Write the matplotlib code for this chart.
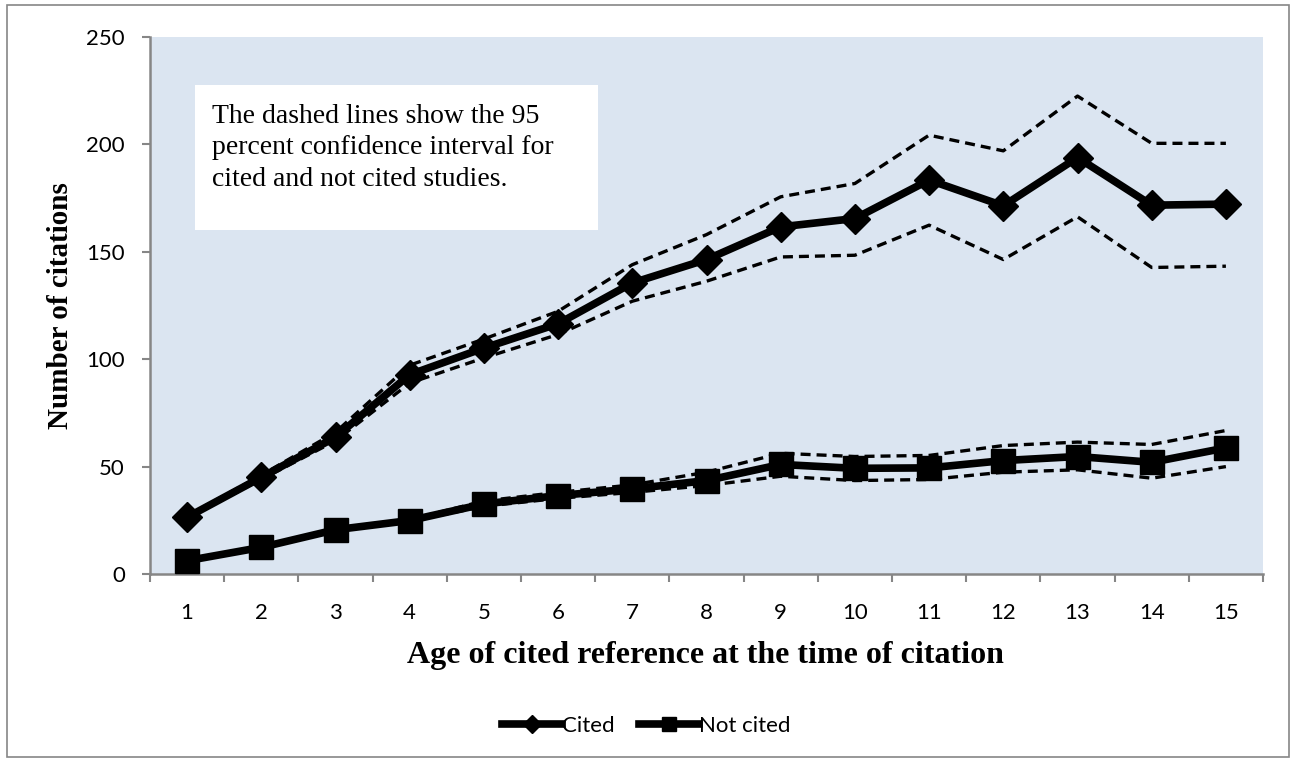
import numpy as np
import matplotlib.pyplot as plt
from matplotlib.patches import Rectangle

# Data
ages = list(range(1, 16))
cited = [26.4, 45, 63.7, 92.8, 105.2, 116.5, 135.5, 146.4, 161.6, 165.5, 183.4, 171.4, 193.9, 171.7, 172.2]
cited_upper = [27, 46, 66, 97.2, 109.4, 122.3, 144, 158, 175.6, 181.8, 204.3, 197, 222.5, 200.5, 200.5]
cited_lower = [26, 44, 62, 88.9, 100.6, 111.5, 127, 136.3, 147.6, 148.4, 162.4, 146.4, 166.3, 142.7, 143.3]
not_cited = [6.2, 12.4, 20.6, 24.9, 32.6, 36.5, 39.6, 43.5, 51, 49.2, 49.4, 52.8, 54.7, 52, 58.7]
not_cited_upper = [6.5, 12.8, 21, 25.3, 34, 38, 41.5, 47.4, 56.2, 54.7, 55.2, 59.8, 61.4, 60.3, 66.8]
not_cited_lower = [6, 12, 20.2, 24.5, 31.5, 35.2, 38, 41.2, 45.5, 43.5, 44, 47.4, 48.5, 44.6, 50]

W, H = 1293, 760
fig = plt.figure(figsize=(W / 100, H / 100), dpi=100)
ax = fig.add_axes([150 / W, 1 - 574 / H, 1113 / W, 537 / H])
ax.set_facecolor('#DBE5F1')

# outer chart border
fig.patches.append(Rectangle((7 / W, 3 / H), 1282 / W, 752 / H, transform=fig.transFigure,
                             fill=False, edgecolor='#868686', linewidth=1.2))

# confidence interval lines
for band in [cited_upper, cited_lower, not_cited_upper, not_cited_lower]:
    ax.plot(ages, band, color='black', linestyle=(0, (3, 1.8)), linewidth=2.4, zorder=2)

ax.plot(ages, cited, color='black', linewidth=5.5, marker='D', markersize=15, label='Cited', zorder=3)
ax.plot(ages, not_cited, color='black', linewidth=5.5, marker='s', markersize=17, label='Not cited', zorder=3)

ax.set_xlim(0.5, 15.5)
ax.set_ylim(0, 250)
ax.set_yticks([0, 50, 100, 150, 200, 250])
ax.set_xticks(ages)
ax.set_xticks(np.arange(0.5, 16, 1), minor=True)
ax.tick_params(axis='x', which='major', length=0, pad=21, labelsize=16)
ax.tick_params(axis='x', which='minor', length=6, width=1.5, color='#868686', direction='out')
ax.tick_params(axis='y', length=6, width=1.5, color='#868686', direction='out', labelsize=16, pad=12)
for lab in ax.get_xticklabels() + ax.get_yticklabels():
    lab.set_family('Lato')

for side in ['top', 'right']:
    ax.spines[side].set_visible(False)
for side in ['left', 'bottom']:
    ax.spines[side].set_color('#868686')
    ax.spines[side].set_linewidth(1.8)

ax.set_xlabel('Age of cited reference at the time of citation', family='Liberation Serif',
              fontweight='bold', fontsize=23)
ax.xaxis.set_label_coords(0.4987, -0.125)
ax.set_ylabel('Number of citations', family='Liberation Serif', fontweight='bold', fontsize=21)
ax.yaxis.set_label_coords(-0.068, 0.5)

# annotation box
ax.add_patch(Rectangle((1.105, 160), 5.435, 67.6, facecolor='white', edgecolor='none', zorder=1))
ax.text(1.33, 219, 'The dashed lines show the 95\npercent confidence interval for\ncited and not cited studies.',
        family='Liberation Serif', fontsize=20, va='top', ha='left', linespacing=1.36, zorder=4)

fig.legend(loc='center', bbox_to_anchor=(0.5, 1 - 726 / H), ncol=2, frameon=False,
           prop={'family': 'Lato', 'size': 16}, handlelength=2.7, columnspacing=1.1, handletextpad=0.0,
           markerscale=0.6)

plt.savefig('out.png', dpi=100)
